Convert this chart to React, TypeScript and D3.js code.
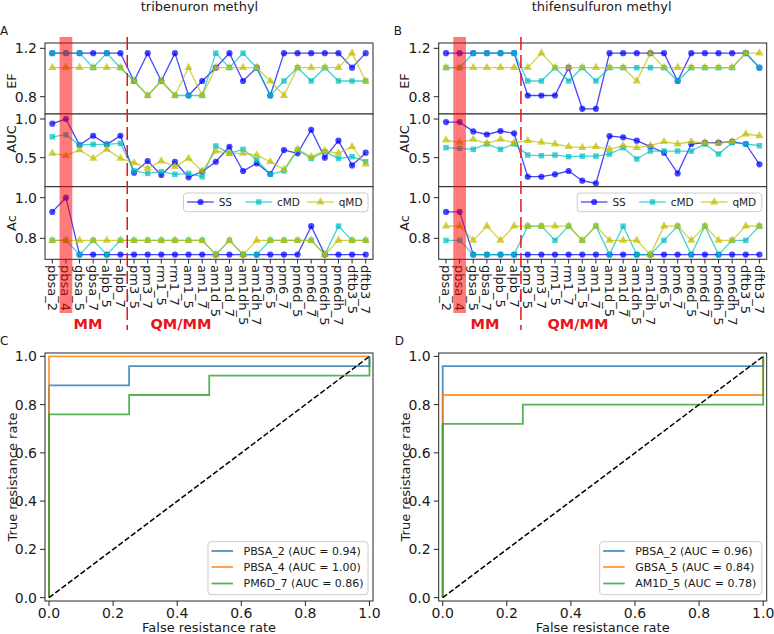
import React from "react";
import * as d3 from "d3";

// ---------------- DATA ----------------
const categories = [
  "pbsa_2", "pbsa_4", "gbsa_5", "gbsa_7", "alpb_5", "alpb_7",
  "pm3_5", "pm3_7", "rm1_5", "rm1_7", "am1_5", "am1_7",
  "am1d_5", "am1d_7", "am1dh_5", "am1dh_7", "pm6_5", "pm6_7",
  "pm6d_5", "pm6d_7", "pm6dh_5", "pm6dh_7", "dftb3_5", "dftb3_7",
];
const seriesNames = ["SS", "cMD", "qMD"];
const seriesColors = ["#0000ff", "#00bfbf", "#bfbf00"];

// tribenuron methyl
const efTribSS = [1.16, 1.16, 1.16, 1.16, 1.16, 1.16, 0.93, 1.16, 0.93, 1.16, 0.81, 0.93, 1.04, 1.16, 0.93, 1.04, 0.81, 1.16, 1.16, 1.16, 1.16, 1.16, 1.04, 1.16];
const efTribCMD = [1.16, 1.16, 1.16, 1.04, 1.16, 1.04, 0.93, 0.81, 0.93, 0.81, 0.81, 0.81, 1.16, 1.04, 1.16, 1.04, 0.81, 0.93, 1.04, 0.93, 1.04, 0.93, 0.93, 0.93];
const efTribQMD = [1.04, 1.04, 1.04, 1.04, 1.04, 1.04, 0.93, 0.81, 0.93, 0.81, 1.04, 0.81, 1.04, 1.04, 1.04, 1.04, 0.93, 0.81, 1.04, 1.04, 1.04, 1.04, 1.16, 0.93];
const aucTribSS = [0.94, 1.0, 0.664, 0.784, 0.672, 0.784, 0.306, 0.457, 0.276, 0.448, 0.246, 0.319, 0.448, 0.642, 0.328, 0.427, 0.289, 0.599, 0.556, 0.86, 0.5, 0.72, 0.4, 0.565];
const aucTribCMD = [0.77, 0.797, 0.664, 0.672, 0.672, 0.685, 0.33, 0.297, 0.319, 0.285, 0.297, 0.254, 0.651, 0.556, 0.608, 0.47, 0.285, 0.328, 0.6, 0.49, 0.578, 0.49, 0.513, 0.448];
const aucTribQMD = [0.556, 0.526, 0.6, 0.49, 0.608, 0.49, 0.435, 0.362, 0.457, 0.384, 0.49, 0.328, 0.586, 0.556, 0.556, 0.534, 0.448, 0.349, 0.612, 0.513, 0.59, 0.556, 0.642, 0.418];
const acTribSS = [0.93, 1.0, 0.72, 0.72, 0.72, 0.72, 0.72, 0.72, 0.72, 0.72, 0.72, 0.72, 0.72, 0.72, 0.72, 0.72, 0.72, 0.72, 0.72, 0.86, 0.72, 0.72, 0.72, 0.72];
const acTribCMD = [0.79, 0.79, 0.72, 0.79, 0.72, 0.79, 0.79, 0.79, 0.79, 0.79, 0.79, 0.79, 0.72, 0.79, 0.72, 0.72, 0.79, 0.79, 0.79, 0.79, 0.72, 0.86, 0.79, 0.79];
const acTribQMD = [0.79, 0.79, 0.79, 0.79, 0.79, 0.79, 0.79, 0.79, 0.79, 0.79, 0.79, 0.79, 0.72, 0.79, 0.72, 0.79, 0.79, 0.79, 0.79, 0.79, 0.72, 0.79, 0.79, 0.79];

// thifensulfuron methyl
const efThifSS = [1.16, 1.16, 1.16, 1.16, 1.16, 1.16, 0.81, 0.81, 0.81, 1.04, 0.70, 0.70, 1.16, 1.16, 1.16, 1.16, 1.16, 0.93, 1.16, 1.16, 1.16, 1.16, 1.16, 1.04];
const efThifCMD = [1.04, 1.04, 1.16, 1.16, 1.16, 1.16, 0.93, 0.93, 1.04, 0.93, 1.04, 0.93, 1.04, 1.04, 1.04, 1.04, 1.04, 0.93, 1.04, 1.04, 1.04, 1.04, 1.16, 1.04];
const efThifQMD = [1.04, 1.04, 1.04, 1.04, 1.04, 1.04, 1.04, 1.16, 1.04, 1.04, 1.04, 1.04, 1.04, 1.04, 0.93, 1.16, 1.04, 1.04, 1.04, 1.04, 1.04, 1.04, 1.16, 1.16];
const aucThifSS = [0.96, 0.96, 0.84, 0.8, 0.845, 0.815, 0.254, 0.254, 0.285, 0.328, 0.203, 0.168, 0.78, 0.763, 0.72, 0.642, 0.565, 0.297, 0.677, 0.694, 0.694, 0.707, 0.677, 0.414];
const aucThifCMD = [0.63, 0.62, 0.608, 0.677, 0.608, 0.677, 0.534, 0.526, 0.534, 0.513, 0.52, 0.52, 0.547, 0.63, 0.483, 0.586, 0.586, 0.586, 0.586, 0.677, 0.547, 0.694, 0.677, 0.655];
const aucThifQMD = [0.728, 0.698, 0.737, 0.685, 0.737, 0.694, 0.72, 0.698, 0.677, 0.642, 0.63, 0.642, 0.608, 0.655, 0.63, 0.655, 0.707, 0.677, 0.707, 0.694, 0.685, 0.707, 0.806, 0.784];
const acThifSS = [0.93, 0.93, 0.72, 0.72, 0.72, 0.72, 0.72, 0.72, 0.72, 0.72, 0.72, 0.72, 0.72, 0.72, 0.72, 0.72, 0.72, 0.72, 0.72, 0.72, 0.72, 0.72, 0.72, 0.72];
const acThifCMD = [0.79, 0.79, 0.72, 0.72, 0.72, 0.72, 0.86, 0.86, 0.79, 0.86, 0.79, 0.86, 0.72, 0.86, 0.72, 0.72, 0.79, 0.86, 0.72, 0.86, 0.72, 0.79, 0.79, 0.86];
const acThifQMD = [0.86, 0.86, 0.79, 0.86, 0.79, 0.86, 0.86, 0.86, 0.86, 0.86, 0.79, 0.86, 0.79, 0.79, 0.79, 0.72, 0.86, 0.86, 0.79, 0.86, 0.79, 0.79, 0.86, 0.86];

// ROC curves
const rocTribNames = ["PBSA_2 (AUC = 0.94)", "PBSA_4 (AUC = 1.00)", "PM6D_7 (AUC = 0.86)"];
const rocTribFpr = [
  [0, 0, 0.25, 0.25, 1, 1],
  [0, 0, 1],
  [0, 0, 0.25, 0.25, 0.5, 0.5, 1, 1],
];
const rocTribTpr = [
  [0, 0.88, 0.88, 0.96, 0.96, 1],
  [0, 1, 1],
  [0, 0.76, 0.76, 0.84, 0.84, 0.92, 0.92, 1],
];
const rocThifNames = ["PBSA_2 (AUC = 0.96)", "GBSA_5 (AUC = 0.84)", "AM1D_5 (AUC = 0.78)"];
const rocThifFpr = [
  [0, 0, 1, 1],
  [0, 0, 1, 1],
  [0, 0, 0.25, 0.25, 1, 1],
];
const rocThifTpr = [
  [0, 0.96, 0.96, 1],
  [0, 0.84, 0.84, 1],
  [0, 0.72, 0.72, 0.8, 0.8, 1],
];
const rocColors = ["#1f77b4", "#ff7f0e", "#2ca02c"];
const rocTicks = [0, 0.2, 0.4, 0.6, 0.8, 1.0];

// ---------------- STYLE ----------------
const FONT = "'DejaVu Sans', sans-serif";
const FRAME = "#262626";
const TEXT = "#1a1a1a";
const RED = "#e8141b";
const fmt = d3.format(".1f");

const symbols = [
  d3.symbol().type(d3.symbolCircle).size(30)(),
  d3.symbol().type(d3.symbolSquare).size(30)(),
  d3.symbol().type(d3.symbolTriangle).size(30)(),
];

type TopProps = {
  x0: number;
  title: string;
  titleX: number;
  letter: string;
  ef: number[][];
  auc: number[][];
  ac: number[][];
  mmX: number;
  qmX: number;
};

function TopPanel({ x0, title, titleX, letter, ef, auc, ac, mmX, qmX }: TopProps) {
  const x1 = x0 + 328;
  const x = d3.scalePoint<string>().domain(categories).range([x0 + 7.3, x1 - 7.3]);
  const rows = [
    { name: "EF", top: 43, bottom: 114, labelY: 81, domain: [0.657, 1.244], ticks: [0.8, 1.2], data: ef },
    { name: "AUC", top: 114, bottom: 186.7, labelY: 139, domain: [0.125, 1.065], ticks: [0.5, 1.0], data: auc },
    { name: "Ac", top: 186.7, bottom: 259.3, labelY: 223, domain: [0.697, 1.054], ticks: [0.8, 1.0], data: ac },
  ];
  const dashX = ((x(categories[5]) as number) + (x(categories[6]) as number)) / 2;
  const hlX = x(categories[1]) as number;
  const legY = 202;
  const legOffsets = [3.7, 62, 123.7];
  return (
    <g>
      <text x={titleX} y={11} fontSize={13} textAnchor="middle" fill={TEXT} fontFamily={FONT}>{title}</text>
      <text x={x0 - 45} y={35} fontSize={12} fill={TEXT} fontFamily={FONT}>{letter}</text>
      {rows.map((r) => {
        const y = d3.scaleLinear().domain(r.domain).range([r.bottom, r.top]);
        return (
          <g key={r.name}>
            <rect x={x0} y={r.top} width={328} height={r.bottom - r.top} fill="white" />
            {r.data.map((vals, si) => {
              const pts = vals.map((v, i) => [x(categories[i]) as number, y(v)] as [number, number]);
              return (
                <g key={si}>
                  <path d={d3.line()(pts) || ""} fill="none" stroke={seriesColors[si]} strokeOpacity={0.72} strokeWidth={1.3} />
                  {pts.map((p, i) => (
                    <path key={i} d={symbols[si] || ""} transform={`translate(${p[0]},${p[1]})`} fill={seriesColors[si]} fillOpacity={0.72} />
                  ))}
                </g>
              );
            })}
            <rect x={x0} y={r.top} width={328} height={r.bottom - r.top} fill="none" stroke={FRAME} strokeWidth={1} />
            {r.ticks.map((t) => (
              <g key={t}>
                <line x1={x0 - 5} x2={x0} y1={y(t)} y2={y(t)} stroke={FRAME} />
                <text x={x0 - 8} y={y(t)} fontSize={14} textAnchor="end" dominantBaseline="central" fill={TEXT} fontFamily={FONT}>{fmt(t)}</text>
              </g>
            ))}
            <text transform={`translate(${x0 - 34},${r.labelY}) rotate(-90)`} fontSize={13} textAnchor="middle" dominantBaseline="central" fill={TEXT} fontFamily={FONT}>{r.name}</text>
          </g>
        );
      })}
      {categories.map((c) => (
        <g key={c}>
          <line x1={x(c)} x2={x(c)} y1={259.3} y2={263.5} stroke={FRAME} />
          <text transform={`translate(${x(c)},${265}) rotate(90)`} fontSize={13} textAnchor="start" dominantBaseline="central" fill={TEXT} fontFamily={FONT}>{c}</text>
        </g>
      ))}
      {/* legend */}
      <rect x={x1 - 5 - 184.5} y={193} width={184.5} height={18.7} rx={3} fill="white" fillOpacity={0.85} stroke="#cccccc" />
      {seriesNames.map((n, si) => {
        const lx = x1 - 5 - 184.5 + legOffsets[si];
        return (
          <g key={n}>
            <line x1={lx} x2={lx + 26.6} y1={legY} y2={legY} stroke={seriesColors[si]} strokeOpacity={0.72} strokeWidth={1.3} />
            <path d={symbols[si] || ""} transform={`translate(${lx + 13.3},${legY})`} fill={seriesColors[si]} fillOpacity={0.72} />
            <text x={lx + 31.5} y={legY} fontSize={10.5} dominantBaseline="central" fill={TEXT} fontFamily={FONT}>{n}</text>
          </g>
        );
      })}
      {/* highlight and divider */}
      <rect x={hlX - 6.35} y={37} width={12.7} height={276} fill="#ff0000" fillOpacity={0.52} />
      <line x1={dashX} x2={dashX} y1={37} y2={330} stroke={RED} strokeWidth={1.5} strokeDasharray="13,5" />
      <text x={mmX} y={328.5} fontSize={14.5} fontWeight="bold" textAnchor="middle" fill={RED} fontFamily={FONT}>MM</text>
      <text x={qmX} y={328.5} fontSize={14.5} fontWeight="bold" textAnchor="middle" fill={RED} fontFamily={FONT}>QM/MM</text>
    </g>
  );
}

type RocProps = {
  x0: number;
  letter: string;
  names: string[];
  fpr: number[][];
  tpr: number[][];
  legW: number;
};

function RocPanel({ x0, letter, names, fpr, tpr, legW }: RocProps) {
  const x1 = x0 + 328;
  const top = 353;
  const bottom = 601;
  const x = d3.scaleLinear().domain([-0.0125, 1.011]).range([x0, x1]);
  const y = d3.scaleLinear().domain([-0.014, 1.014]).range([bottom, top]);
  const line = d3.line<[number, number]>().x((d) => x(d[0])).y((d) => y(d[1]));
  const legX = x1 - 5 - legW;
  const legRows = [551, 567, 583.5];
  return (
    <g>
      <text x={x0 - 45 + (letter === "D" ? 1 : 0)} y={345} fontSize={12} fill={TEXT} fontFamily={FONT}>{letter}</text>
      <rect x={x0} y={top} width={328} height={bottom - top} fill="white" />
      {fpr.map((f, i) => (
        <path key={i} d={line(f.map((v, j) => [v, tpr[i][j]] as [number, number])) || ""} fill="none" stroke={rocColors[i]} strokeOpacity={0.8} strokeWidth={1.8} />
      ))}
      <path d={line([[0, 0], [1, 1]]) || ""} stroke="#000" strokeWidth={1.5} strokeDasharray="5.5,2.4" fill="none" />
      <rect x={x0} y={top} width={328} height={bottom - top} fill="none" stroke={FRAME} />
      {rocTicks.map((t) => (
        <g key={t}>
          <line x1={x(t)} x2={x(t)} y1={bottom} y2={bottom + 5} stroke={FRAME} />
          <text x={x(t)} y={618} fontSize={14} textAnchor="middle" fill={TEXT} fontFamily={FONT}>{fmt(t)}</text>
          <line x1={x0 - 5} x2={x0} y1={y(t)} y2={y(t)} stroke={FRAME} />
          <text x={x0 - 8} y={y(t)} fontSize={14} textAnchor="end" dominantBaseline="central" fill={TEXT} fontFamily={FONT}>{fmt(t)}</text>
        </g>
      ))}
      <text x={(x0 + x1) / 2} y={632} fontSize={13} textAnchor="middle" fill={TEXT} fontFamily={FONT}>False resistance rate</text>
      <text transform={`translate(${x0 - 33},${(top + bottom) / 2}) rotate(-90)`} fontSize={13} textAnchor="middle" dominantBaseline="central" fill={TEXT} fontFamily={FONT}>True resistance rate</text>
      <rect x={legX} y={541.7} width={legW} height={53} rx={3} fill="white" fillOpacity={0.85} stroke="#cccccc" />
      {names.map((n, i) => (
        <g key={n}>
          <line x1={legX + 3.5} x2={legX + 25} y1={legRows[i]} y2={legRows[i]} stroke={rocColors[i]} strokeOpacity={0.8} strokeWidth={1.8} />
          <text x={legX + 35.5} y={legRows[i]} fontSize={11} dominantBaseline="central" fill={TEXT} fontFamily={FONT}>{n}</text>
        </g>
      ))}
    </g>
  );
}

export default function App() {
  return (
    <svg width={774} height={634} style={{ position: "absolute", left: 0, top: 0, background: "white" }} fontFamily={FONT}>
      <rect width={774} height={634} fill="white" />
      <TopPanel
        x0={45}
        title="tribenuron methyl"
        titleX={199.5}
        letter="A"
        ef={[efTribSS, efTribCMD, efTribQMD]}
        auc={[aucTribSS, aucTribCMD, aucTribQMD]}
        ac={[acTribSS, acTribCMD, acTribQMD]}
        mmX={88}
        qmX={181}
      />
      <TopPanel
        x0={438.7}
        title="thifensulfuron methyl"
        titleX={601.7}
        letter="B"
        ef={[efThifSS, efThifCMD, efThifQMD]}
        auc={[aucThifSS, aucThifCMD, aucThifQMD]}
        ac={[acThifSS, acThifCMD, acThifQMD]}
        mmX={485}
        qmX={578}
      />
      <RocPanel x0={45} letter="C" names={rocTribNames} fpr={rocTribFpr} tpr={rocTribTpr} legW={160} />
      <RocPanel x0={438.7} letter="D" names={rocThifNames} fpr={rocThifFpr} tpr={rocThifTpr} legW={162} />
    </svg>
  );
}
